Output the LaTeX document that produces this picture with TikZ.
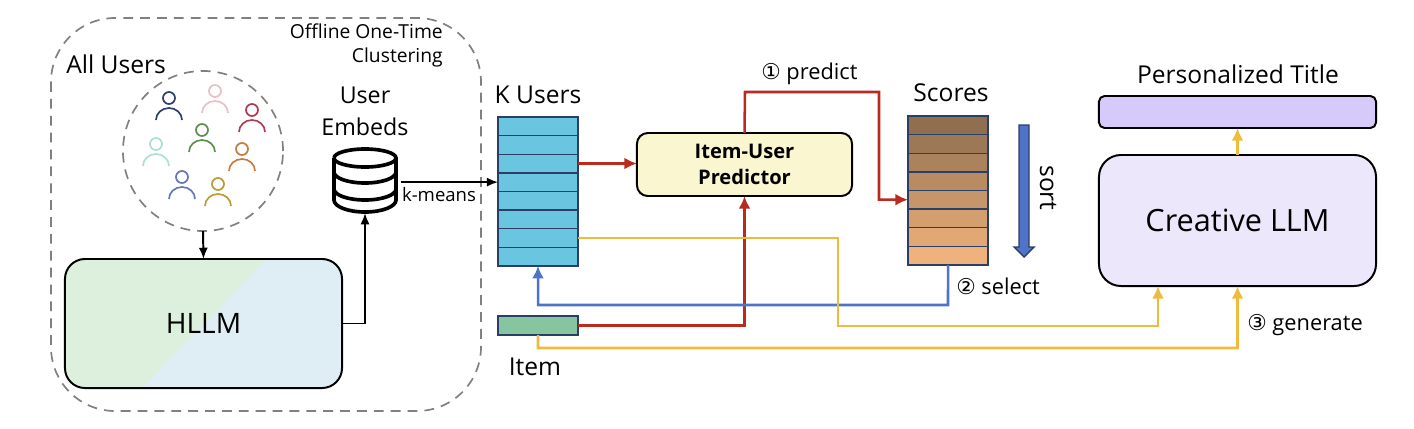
\documentclass[tikz,border=0pt]{standalone}
\usepackage{fontspec}
\usepackage{tikz}
\usetikzlibrary{arrows.meta}
\setmainfont{Open Sans}
\newfontfamily\circfont{DejaVu Sans}
\definecolor{redline}{HTML}{B92B1E}
\definecolor{yellowline}{HTML}{EFBB3C}
\definecolor{blueline}{HTML}{4F73C8}
\definecolor{navyline}{HTML}{2B3F66}
\definecolor{dashgray}{HTML}{808080}
\definecolor{scoretop}{HTML}{8F6F50}
\definecolor{scorebot}{HTML}{F0B27C}
\tikzset{
	lab/.style={font=\fontsize{17.5}{21}\selectfont,inner sep=0pt,align=center},
	smalllab/.style={font=\fontsize{15.5}{19}\selectfont,inner sep=0pt},
	cell/.style={draw=navyline,line width=1pt,minimum width=2cm,minimum height=0.465cm,inner sep=0pt,outer sep=0pt},
	blackline/.style={black,line width=1.4pt,-{Latex[length=8pt,width=6.5pt]}},
	redarrow/.style={redline,line width=1.8pt,-{Latex[length=9pt,width=8.5pt]}},
	yellowarrow/.style={yellowline,line width=1.8pt,-{Latex[length=9pt,width=8.5pt]}},
	bluearrow/.style={blueline,line width=1.8pt,-{Latex[length=9pt,width=8.5pt]}},
	roundbox/.style={draw=black,line width=1.4pt,inner sep=0pt,outer sep=0pt,align=center},
	dashbox/.style={draw=dashgray,line width=1.2pt,dash pattern=on 7pt off 5pt},
}
\begin{document}
\begin{tikzpicture}[x=0.025cm,y=-0.025cm]
	\useasboundingbox (0,0) rectangle (1414,428);
	\draw[dashbox,rounded corners=1.6cm] (51,18) rectangle (481,411);
	\node[inner sep=0pt,anchor=base east,font=\fontsize{13.7}{17}\selectfont] (offline) at (443,38) {Offline One-Time};
	\node[inner sep=0pt,anchor=base east,font=\fontsize{13.7}{17}\selectfont] (clustering) at (443,62) {Clustering};
	\node[lab,anchor=base west] (allusers) at (66,73) {All Users};
	\node[circle,dashbox,minimum size=4cm,inner sep=0pt,outer sep=0pt] (allcircle) at (203,151) {};
	\foreach \x/\y/\c in {169/98/2F3E6B,215/91/E9BFC8,252/110/B23A52,202/130/5F8F4E,156/144/ABE0D5,242/149/C67C3F,182/177/6577B5,218/184/BC9A35}{
		\definecolor{personcol}{HTML}{\c}
		\draw[personcol,line width=1.2pt] (\x,\y) circle (6);
		\draw[personcol,line width=1.2pt] (\x-13,\y+22) arc[start angle=180,end angle=360,x radius=13,y radius=12];
	}
	% hllm box, two colours
	\begin{scope}
		\clip[rounded corners=0.5cm] (65,259) rectangle (342,388);
		\fill[color={rgb,255:red,221;green,240;blue,222}] (65,259) rectangle (342,388);
		\fill[color={rgb,255:red,223;green,237;blue,245}] (267,259) -- (342,259) -- (342,388) -- (142,388) -- cycle;
	\end{scope}
	\node[roundbox,rounded corners=0.5cm,minimum width=6.925cm,minimum height=3.225cm,font=\fontsize{20}{24}\selectfont] (hllm) at (203.5,323.5) {HLLM};
	\draw[blackline] (allcircle.south) -- (hllm.north);
	% user embeds database
	\node[lab,font=\fontsize{16.5}{20}\selectfont] (embeds) at (365,111) {User\\[3pt]Embeds};
	\node[minimum width=1.6cm,minimum height=1.6cm,inner sep=0pt,outer sep=0pt] (db) at (365,181) {};
	\draw[black,line width=2.6pt] (334,158) arc[start angle=180,end angle=-180,x radius=31,y radius=9];
	\draw[black,line width=2.6pt] (334,158) -- (334,200) arc[start angle=180,end angle=0,x radius=31,y radius=12] -- (396,158);
	\draw[black,line width=2.6pt] (334,172) arc[start angle=180,end angle=0,x radius=31,y radius=11];
	\draw[black,line width=2.6pt] (334,189) arc[start angle=180,end angle=0,x radius=31,y radius=11];
	\draw[blackline] (hllm.east) -| (db.south);
	% k users
	\node[lab] (kuserslab) at (538,95) {K Users};
	\foreach \i in {1,...,8}{
		\node[cell,fill={rgb,255:red,106;green,197;blue,224},anchor=north west] (k\i) at (498,{117+(\i-1)*18.6}) {};
	}
	\draw[blackline,line width=1.1pt] ([xshift=0.1cm]db.east |- k4.west) -- (k4.west);
	\node[inner sep=0pt,font=\fontsize{13.2}{17}\selectfont] (kmeans) at (439,195) {k-means};
	% scores
	\node[lab] (scoreslab) at (951,93) {Scores};
	\foreach \i in {1,...,8}{
		\pgfmathtruncatemacro{\m}{(\i-1)*100/7}
		\node[cell,fill=scorebot!\m!scoretop,anchor=north west] (s\i) at (908,{116+(\i-1)*18.6}) {};
	}
	% predictor
	\node[roundbox,fill={rgb,255:red,250;green,246;blue,208},rounded corners=0.27cm,minimum width=5.375cm,minimum height=1.575cm,font=\fontsize{14.3}{18.5}\selectfont\bfseries] (predictor) at (744.5,164.5) {Item-User\\Predictor};
	\node[cell,fill={rgb,255:red,133;green,197;blue,160},minimum height=0.475cm,anchor=north west] (item) at (498,316) {};
	\node[lab] (itemlab) at (535,367) {Item};
	% creative llm and title
	\node[roundbox,fill={rgb,255:red,237;green,231;blue,251},rounded corners=0.55cm,minimum width=6.925cm,minimum height=3.275cm,font=\fontsize{21.8}{26}\selectfont] (creative) at (1237.5,220.5) {Creative LLM};
	\node[roundbox,fill={rgb,255:red,213;green,202;blue,249},rounded corners=0.14cm,minimum width=6.925cm,minimum height=0.8cm] (title) at (1237.5,112) {};
	\node[lab] (titlelab) at (1238,74) {Personalized Title};
	% connectors
	\draw[redarrow] (k3.east) -- (k3.east -| predictor.west);
	\coordinate (predup) at (745,92);
	\coordinate (scorein) at (879,92);
	\draw[redarrow] (predictor.north) -- (predup) -- (scorein) |- (s5.west);
	\draw[redarrow] (item.east) -| (predictor.south);
	\coordinate (selectline) at (948,305);
	\draw[bluearrow] (s8.south) -- (selectline) -| (k8.south);
	\coordinate (genline) at (838,326);
	\coordinate (creativein) at (1158,286);
	\draw[yellowarrow] (k7.east) -| (genline) -| (creativein);
	\coordinate (itemline) at (538,348);
	\draw[yellowarrow] (item.south) -- (itemline) -| (creative.south);
	\draw[yellowarrow] (creative.north) -- (title.south);
	% sort arrow
	\draw[draw=navyline,fill=blueline,line width=1pt] (1019,125) -- (1029,125) -- (1029,247) -- (1034,247) -- (1024,257) -- (1014,247) -- (1019,247) -- cycle;
	\node[lab,rotate=-90] (sortlab) at (1048,188) {sort};
	\node[smalllab,anchor=west] (predictlab) at (761,74) {{\circfont ①} predict};
	\node[smalllab,anchor=west] (selectlab) at (956,286) {{\circfont ②} select};
	\node[smalllab,anchor=west] (generatelab) at (1247,325) {{\circfont ③} generate};
\end{tikzpicture}
\end{document}
